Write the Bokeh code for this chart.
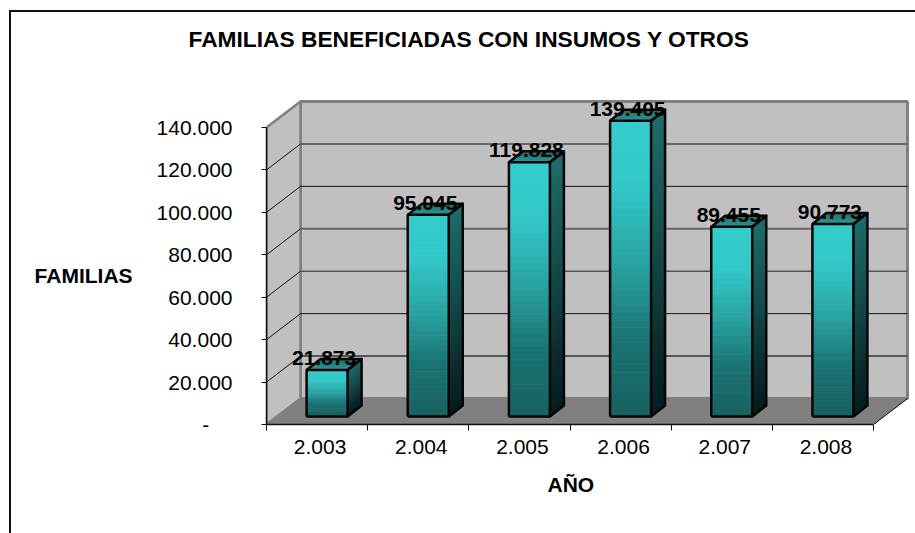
from bokeh.plotting import figure
from bokeh.models import Range1d, LinearAxis, FixedTicker, Title, InlineStyleSheet
from bokeh.embed import file_html
from bokeh.resources import INLINE
from bokeh.core.properties import value

TITLE = "FAMILIAS BENEFICIADAS CON INSUMOS Y OTROS"
YEARS = ["2.003", "2.004", "2.005", "2.006", "2.007", "2.008"]
FAMILIES = [21873, 95045, 119828, 139405, 89455, 90773]
FAMILY_LABELS = ["21.873", "95.045", "119.828", "139.405", "89.455", "90.773"]
Y_TICKS = [0, 20000, 40000, 60000, 80000, 100000, 120000, 140000]
Y_LABELS = ["-\u00a0\u00a0\u00a0\u00a0", "20.000", "40.000", "60.000", "80.000", "100.000", "120.000", "140.000"]
GRID_COLORS = ["#555555", "#111111", "#555555", "#666666", "#111111", "#666666", "#808080"]
GRID_WIDTHS = [2, 1, 1.5, 2, 1, 2, 3]

FONT = "Liberation Sans"
SX = 6 / 607          # category units per pixel
SY = 140000 / 297     # value units per pixel
DEPTH_X, DEPTH_Y = 34 * SX, 26 * SY
BAR_SHIFT_X, BAR_SHIFT_Y = 10 * SX, 8 * SY
BAR_W = 41 * SX
BAR_DX, BAR_DY = 14 * SX, 11 * SY
N_SLICES = 40
FRONT_STOPS = [(0, (51, 204, 204)), (0.22, (50, 200, 200)), (0.5, (40, 160, 160)), (0.75, (26, 115, 115)), (1, (24, 98, 98))]
SIDE_STOPS = [(0, (30, 108, 108)), (0.5, (18, 70, 70)), (0.8, (14, 42, 42)), (1, (3, 30, 30))]


def mix(stops, t):
    for (t0, a), (t1, b) in zip(stops, stops[1:]):
        if t <= t1:
            f = (t - t0) / (t1 - t0)
            return "#%02x%02x%02x" % tuple(round(a[i] + (b[i] - a[i]) * f) for i in range(3))
    return "#%02x%02x%02x" % stops[-1][1]


p = figure(width=915, height=533, output_backend="svg", toolbar_location=None,
           x_range=Range1d(0, 644 * SX), y_range=Range1d(0, 326 * SY),
           x_axis_type=None, y_axis_type=None,
           min_border_left=266, min_border_right=5, min_border_top=98, min_border_bottom=109,
           background_fill_color="white", border_fill_color="white", outline_line_color=None)
p.grid.visible = False

# chart-area frame: only its top and left edges fall inside the picture
p.stylesheets = [InlineStyleSheet(css=""":host::before {
    content: ""; position: absolute; left: 9px; top: 10px; right: -20px; bottom: -20px;
    border-top: 2px solid #111111; border-left: 2px solid #111111;
    z-index: 5; pointer-events: none; }
:host { overflow: hidden; }""")]

# walls and floor
p.quad(left=[DEPTH_X], right=[6 + DEPTH_X], bottom=[DEPTH_Y], top=[140000 + DEPTH_Y],
       fill_color="#c0c0c0", line_color="#808080", line_width=3)
p.patch([0, DEPTH_X, DEPTH_X, 0], [0, DEPTH_Y, 140000 + DEPTH_Y, 140000],
        fill_color="#c0c0c0", line_color="#808080", line_width=2.5)
p.patch([0, 6, 6 + DEPTH_X, DEPTH_X], [0, 0, DEPTH_Y, DEPTH_Y],
        fill_color="#808080", line_color="#808080", line_width=1)
p.segment([6], [0], [6 + DEPTH_X], [DEPTH_Y], line_color="#111111", line_width=1)

# grid lines
levels = Y_TICKS[1:]
p.segment([DEPTH_X] * 7, [v + DEPTH_Y for v in levels], [6 + DEPTH_X] * 7, [v + DEPTH_Y for v in levels],
          line_color=GRID_COLORS, line_width=GRID_WIDTHS)
p.segment([0] * 6, levels[:-1], [DEPTH_X] * 6, [v + DEPTH_Y for v in levels[:-1]], line_color="#111111", line_width=1)

# bars
for i, v in enumerate(FAMILIES):
    x0 = i + 0.5 + BAR_SHIFT_X - BAR_W / 2
    x1 = x0 + BAR_W
    y0 = BAR_SHIFT_Y
    y1 = v + BAR_SHIFT_Y
    dy = (y1 - y0) / N_SLICES
    lefts, rights, tops, bottoms, cols = [], [], [], [], []
    sx, sy, scol = [], [], []
    for k in range(N_SLICES):
        t = k / (N_SLICES - 1)
        a, b = y1 - k * dy, y1 - (k + 1) * dy
        tops.append(a); bottoms.append(b); lefts.append(x0); rights.append(x1)
        cols.append(mix(FRONT_STOPS, t))
        sx.append([x1, x1 + BAR_DX, x1 + BAR_DX, x1])
        sy.append([a, a + BAR_DY, b + BAR_DY, b])
        scol.append(mix(SIDE_STOPS, t))
    p.quad(left=lefts, right=rights, top=tops, bottom=bottoms, fill_color=cols, line_color=cols, line_width=0.6)
    p.patches(sx, sy, fill_color=scol, line_color=scol, line_width=1.2)
    tx, ty, tcol = [], [], []
    for k in range(12):
        f0, f1 = k / 12, (k + 1) / 12
        tx.append([x0 + BAR_DX * f0, x1 + BAR_DX * f0, x1 + BAR_DX * f1, x0 + BAR_DX * f1])
        ty.append([y1 + BAR_DY * f0, y1 + BAR_DY * f0, y1 + BAR_DY * f1, y1 + BAR_DY * f1])
        tcol.append(mix([(0, (44, 150, 150)), (1, (28, 105, 105))], f0))
    p.patches(tx, ty, fill_color=tcol, line_color=tcol, line_width=0.6)
    # edges
    p.multi_line([[x0, x1, x1, x0, x0], [x1, x1 + BAR_DX, x1 + BAR_DX, x1],
                  [x0, x0 + BAR_DX, x1 + BAR_DX, x1]],
                 [[y0, y0, y1, y1, y0], [y0, y0 + BAR_DY, y1 + BAR_DY, y1],
                  [y1, y1 + BAR_DY, y1 + BAR_DY, y1]],
                 line_color="#050505", line_width=2.5, line_join="round")

# value labels
p.text(x=[i + 0.5 + BAR_SHIFT_X for i in range(6)], y=[v + BAR_SHIFT_Y for v in FAMILIES], text=FAMILY_LABELS,
       text_font=value(FONT), text_font_style="bold", text_font_size="21px", text_color="#000000",
       text_align="center", text_baseline="middle", x_offset=-3, y_offset=-12)

# axes
yaxis = LinearAxis(ticker=FixedTicker(ticks=Y_TICKS), bounds=(0, 140000),
                   major_label_overrides={t: l for t, l in zip(Y_TICKS, Y_LABELS)},
                   axis_label="\nFAMILIAS", axis_label_orientation="horizontal", axis_label_standoff=21,
                   axis_label_text_font=FONT, axis_label_text_font_style="bold",
                   axis_label_text_font_size="21px", axis_label_text_color="#000000",
                   major_label_text_font=FONT, major_label_text_font_size="21px",
                   major_label_text_color="#000000", major_label_standoff=29,
                   axis_line_color="#111111", axis_line_width=1.5,
                   major_tick_line_color="#111111", major_tick_in=0, major_tick_out=5,
                   minor_tick_line_color=None)
p.add_layout(yaxis, "left")

label_ticks = [i + 0.5 + 3 * SX for i in range(6)]
xaxis = LinearAxis(ticker=FixedTicker(ticks=label_ticks, minor_ticks=list(range(7))), bounds=(0, 6),
                   major_label_overrides={t: y for t, y in zip(label_ticks, YEARS)},
                   major_label_text_font=FONT, major_label_text_font_size="21px",
                   major_label_text_color="#000000", major_label_standoff=9,
                   axis_line_color="#111111", axis_line_width=1.5,
                   major_tick_line_color=None,
                   minor_tick_line_color="#111111", minor_tick_in=0, minor_tick_out=6)
p.add_layout(xaxis, "below")

p.add_layout(Title(text="AÑO", align="left", offset=281, standoff=28, text_font=FONT, text_font_style="bold",
                   text_font_size="21px", text_color="#000000"), "below")

p.title.text = TITLE + "\n"
p.title.align = "left"
p.title.offset = -78
p.title.standoff = 42
p.title.text_font = FONT
p.title.text_font_style = "bold"
p.title.text_font_size = "22.75px"
p.title.text_color = "#000000"

open("out.html", "w").write(file_html(p, INLINE))
